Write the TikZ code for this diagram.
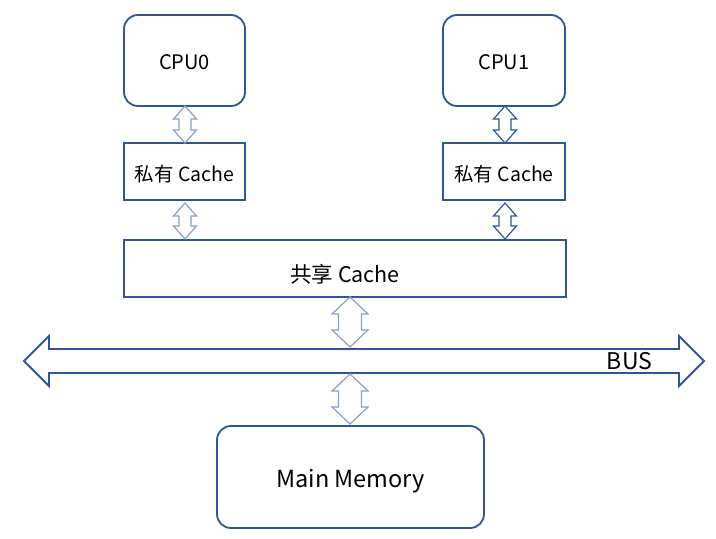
\documentclass[tikz,border=0pt]{standalone}
\usepackage{fontspec}
\setmainfont{Noto Sans CJK SC}
\usetikzlibrary{calc}
\definecolor{boxblue}{HTML}{2F5597}
\definecolor{lightblue}{HTML}{8A9FC8}
\tikzset{
  box/.style={draw=boxblue, line width=1.8pt, fill=white, inner sep=0pt, font=\fontsize{19.5}{22}\selectfont},
  rbox/.style={box, rounded corners=14pt},
  darr/.style={draw=boxblue, line width=1.2pt, fill=white, line join=miter},
  larr/.style={draw=lightblue, line width=1.2pt, fill=white, line join=miter},
}
\newcommand\lowered[2]{\raisebox{-#1}[0pt][0pt]{#2}}
% vertical double arrow: style, top coord, bottom coord, head half width, shaft half width, head length
\newcommand\vdarrow[6]{%
  \draw[#1] let \p1=(#2), \p2=(#3) in
    (\x1,\y1) -- (\x1+#4,\y1-#6) -- (\x1+#5,\y1-#6) -- (\x1+#5,\y2+#6) -- (\x1+#4,\y2+#6)
    -- (\x1,\y2) -- (\x1-#4,\y2+#6) -- (\x1-#5,\y2+#6) -- (\x1-#5,\y1-#6) -- (\x1-#4,\y1-#6) -- cycle;}
\begin{document}
\begin{tikzpicture}[x=1pt,y=1pt]
\useasboundingbox (0,0) rectangle (716,-539);
\node[rbox, minimum width=121pt, minimum height=91pt, font=\fontsize{20}{22}\selectfont] (cpu0) at (184.5,-60.5) {\lowered{9.3pt}{CPU0}};
\node[rbox, minimum width=122pt, minimum height=91pt, font=\fontsize{20}{22}\selectfont] (cpu1) at (504,-60.5) {\lowered{9.3pt}{CPU1}};
\node[box, minimum width=121pt, minimum height=57pt] (pc0) at (184.5,-171.5) {\lowered{10.3pt}{私有 Cache}};
\node[box, minimum width=122pt, minimum height=57pt] (pc1) at (504,-171.5) {\lowered{10.3pt}{私有 Cache}};
\node[box, minimum width=442pt, minimum height=57pt, font=\fontsize{21.5}{24}\selectfont] (shared) at (345,-268.5) {\lowered{13.5pt}{共享 Cache}};
\node[rbox, minimum width=267pt, minimum height=102pt, font=\fontsize{23.5}{27}\selectfont] (mem) at (350.5,-477) {\lowered{10.6pt}{Main Memory}};
% bus
\coordinate (busL) at (24,-361);
\coordinate (busR) at (704,-361);
\draw[darr, line width=1.8pt] (busL) -- (49,-336) -- (49,-349) -- (679,-349) -- (679,-336) -- (busR)
  -- (679,-386) -- (679,-373) -- (49,-373) -- (49,-386) -- cycle;
\node[font=\fontsize{23}{26}\selectfont, inner sep=0pt] (bus) at (629.5,-361) {\lowered{8.4pt}{BUS}};
\coordinate (busTop) at (350,-347);
\coordinate (busBot) at (350,-374);
\coordinate (sharedOut) at (350,-297);
\coordinate (memIn) at (350,-424);
% arrows
\coordinate (a0t) at (185,-106);
\coordinate (a0b) at (185,-143);
\coordinate (b0t) at (185,-203);
\coordinate (b0b) at (185,-239);
\coordinate (a1t) at (505,-106);
\coordinate (a1b) at (505,-143);
\coordinate (b1t) at (505,-203);
\coordinate (b1b) at (505,-239);
\vdarrow{larr}{a0t}{a0b}{11.5pt}{6pt}{13pt}
\vdarrow{larr}{b0t}{b0b}{11.5pt}{6pt}{13pt}
\vdarrow{darr}{a1t}{a1b}{11.5pt}{6pt}{13pt}
\vdarrow{darr}{b1t}{b1b}{11.5pt}{6pt}{13pt}
\vdarrow{larr}{sharedOut}{busTop}{18pt}{11.5pt}{17pt}
\vdarrow{larr}{busBot}{memIn}{18pt}{11.5pt}{17pt}
\end{tikzpicture}
\end{document}
